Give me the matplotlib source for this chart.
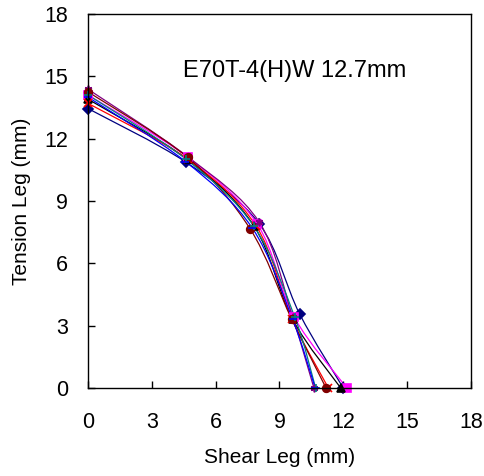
import matplotlib
matplotlib.use("Agg")
import matplotlib.pyplot as plt
from matplotlib.path import Path
from matplotlib.patches import PathPatch
import numpy as np

plt.rcParams['font.family'] = ['Liberation Sans', 'DejaVu Sans']

# shear leg (x) and tension leg (y), one list per specimen
shear_1 = [0.0, 4.60, 8.05, 9.95, 12.00]
tension_1 = [13.45, 10.87, 7.90, 3.56, 0.0]
shear_2 = [0.0, 4.70, 7.95, 9.70, 12.17]
tension_2 = [14.10, 11.10, 7.90, 3.40, 0.0]
shear_3 = [0.0, 4.68, 7.80, 9.62, 11.88]
tension_3 = [13.90, 11.00, 7.80, 3.30, 0.0]
shear_4 = [0.0, 4.70, 7.90, 9.60, 11.30]
tension_4 = [13.70, 11.00, 7.80, 3.30, 0.0]
shear_5 = [0.0, 4.70, 8.05, 9.62, 10.62]
tension_5 = [14.38, 11.12, 7.98, 3.40, 0.0]
shear_6 = [0.0, 4.68, 7.62, 9.57, 11.19]
tension_6 = [14.25, 11.10, 7.66, 3.32, 0.0]
shear_7 = [0.0, 4.62, 7.80, 9.72, 10.70]
tension_7 = [14.10, 11.00, 7.78, 3.40, 0.0]
shear_8 = [0.0, 4.58, 7.72, 9.62, 10.68]
tension_8 = [14.00, 10.90, 7.70, 3.30, 0.0]

series = [
    (shear_1, tension_1, '#000080', 'D'),
    (shear_2, tension_2, '#FF00FF', 's'),
    (shear_3, tension_3, '#000000', '^'),
    (shear_4, tension_4, '#FF0000', 'x'),
    (shear_5, tension_5, '#800080', (6, 2, 0)),
    (shear_6, tension_6, '#800000', 'o'),
    (shear_7, tension_7, '#008080', '+'),
    (shear_8, tension_8, '#0000FF', '_'),
]


def smooth_path(xs, ys, k=1.0 / 6.0):
    # excel-like smoothed line: cubic bezier between points
    pts = np.column_stack([xs, ys]).astype(float)
    n = len(pts)
    verts = [pts[0]]
    codes = [Path.MOVETO]
    for i in range(n - 1):
        p0 = pts[i - 1] if i > 0 else pts[i]
        p1 = pts[i]
        p2 = pts[i + 1]
        p3 = pts[i + 2] if i + 2 < n else pts[i + 1]
        c1 = p1 + (p2 - p0) * k
        c2 = p2 - (p3 - p1) * k
        verts += [c1, c2, p2]
        codes += [Path.CURVE4] * 3
    return Path(verts, codes)


fig = plt.figure(figsize=(4.85, 4.76), dpi=100)
ax = fig.add_axes([0.1814, 0.1849, 0.7896, 0.7857])

for xs, ys, col, mk in series:
    ax.add_patch(PathPatch(smooth_path(xs, ys), facecolor='none', edgecolor=col, lw=0.9))
    ax.plot(xs, ys, linestyle='none', marker=mk, color=col, markersize=5.5,
            markeredgewidth=1.2, clip_on=False)

ax.text(4.45, 15.25, "E70T-4(H)W 12.7mm", fontsize=17, va='center', ha='left')

ax.set_xlim(0, 18)
ax.set_ylim(0, 18)
ax.set_xticks(np.arange(0, 19, 3))
ax.set_yticks(np.arange(0, 19, 3))
ax.tick_params(direction='in', length=5, width=1, labelsize=15.5)
ax.tick_params(axis='x', pad=17)
ax.tick_params(axis='y', pad=14.5)
for s in ax.spines.values():
    s.set_linewidth(1.0)

ax.set_xlabel("Shear Leg (mm)", fontsize=15, labelpad=11)
ax.set_ylabel("Tension Leg (mm)", fontsize=15, labelpad=9)

plt.savefig("out.png", dpi=100)
